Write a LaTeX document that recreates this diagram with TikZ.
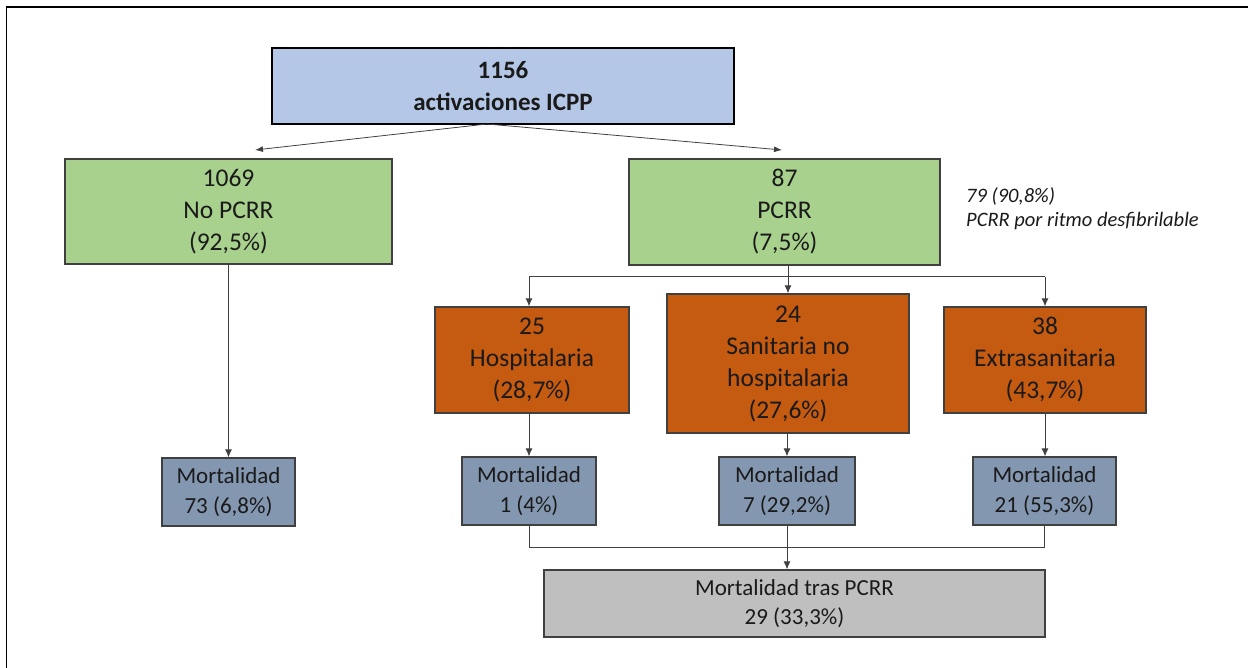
\documentclass[tikz,border=0pt]{standalone}
\usepackage{fontspec}
\setmainfont{Carlito}
\usetikzlibrary{arrows.meta}
\definecolor{cblue}{HTML}{B4C7E7}
\definecolor{cgreen}{HTML}{A9D18E}
\definecolor{corange}{HTML}{C55A11}
\definecolor{cslate}{HTML}{8497B0}
\definecolor{cgray}{HTML}{BFBFBF}
\definecolor{cline}{HTML}{404040}
\definecolor{ctext}{HTML}{1A1A1A}
\begin{document}
\begin{tikzpicture}[x=1pt,y=-1pt,
  box/.style={draw=cline,line width=1.2pt,rectangle,inner sep=0pt,align=center,text=ctext},
  bigtxt/.style={font=\fontsize{25.5}{32}\selectfont},
  midtxt/.style={font=\fontsize{23}{29.5}\selectfont},
  conn/.style={draw=cline,line width=1pt},
  arr/.style={conn,-{Latex[length=8pt,width=7pt]}},
  thinarr/.style={draw=cline,line width=0.8pt,-{Latex[length=8pt,width=6pt]}},
  note/.style={font=\fontsize{20.5}{24}\selectfont\itshape,text=ctext,inner sep=0pt,anchor=base west}
]
\useasboundingbox (0,0) rectangle (1248,668);
\draw[line width=1.5pt] (6.5,668) -- (6.5,7) -- (1248,7);

% top
\node[box,draw=black,line width=1.6pt,fill=cblue,minimum width=462pt,minimum height=76pt,
  font=\fontsize{25}{32}\selectfont\bfseries] (top) at (503,86) {1156\\activaciones ICPP};

% green
\node[box,bigtxt,fill=cgreen,minimum width=327pt,minimum height=105pt] (g1) at (228.5,211.5) {1069\\No PCRR\\(92,5\%)};
\node[box,bigtxt,fill=cgreen,minimum width=311pt,minimum height=106pt] (g2) at (784.5,212) {87\\PCRR\\(7,5\%)};

\node[note] (n1) at (966,203) {79 (90,8\%)};
\node[note] (n2) at (966,227) {PCRR por ritmo desfibrilable};

% orange
\node[box,bigtxt,fill=corange,minimum width=194pt,minimum height=106pt] (o1) at (532,360) {25\\Hospitalaria\\(28,7\%)};
\node[box,bigtxt,fill=corange,minimum width=242pt,minimum height=139pt] (o2) at (788,363.5) {24\\Sanitaria no\\hospitalaria\\(27,6\%)};
\node[box,bigtxt,fill=corange,minimum width=202pt,minimum height=106pt] (o3) at (1045,360) {38\\Extrasanitaria\\(43,7\%)};

% mortality
\node[box,midtxt,fill=cslate,minimum width=133pt,minimum height=68pt] (m0) at (228.5,492) {Mortalidad\\73 (6,8\%)};
\node[box,midtxt,fill=cslate,minimum width=134pt,minimum height=68pt] (m1) at (529,491) {Mortalidad\\1 (4\%)};
\node[box,midtxt,fill=cslate,minimum width=136pt,minimum height=68pt] (m2) at (787,491) {Mortalidad\\7 (29,2\%)};
\node[box,midtxt,fill=cslate,minimum width=143pt,minimum height=68pt] (m3) at (1044.5,491) {Mortalidad\\21 (55,3\%)};

% gray
\node[box,midtxt,fill=cgray,minimum width=501pt,minimum height=67pt] (gr) at (794.5,603.5) {Mortalidad tras PCRR\\29 (33,3\%)};

% connectors
\coordinate (split) at (487,124);
\coordinate (tl) at (255,150);
\coordinate (tr) at (782,150);
\draw[thinarr] (split) -- (tl);
\draw[thinarr] (split) -- (tr);

\draw[arr] (g1.south) -- (m0.north);

\coordinate (bus) at (788,277);
\draw[conn] (g2.south -| bus) -- (bus);
\draw[conn] (m1.north |- bus) -- (o3.north |- bus);
\draw[arr] (m1.north |- bus) -- (m1.north |- o1.north);
\draw[arr] (bus) -- (o2.north);
\draw[arr] (o3.north |- bus) -- (o3.north);

\draw[arr] (m1.north |- o1.south) -- (m1.north);
\draw[arr] (m2.north |- o2.south) -- (m2.north);
\draw[arr] (o3.south) -- (o3.south |- m3.north);

\coordinate (bus2) at (788,547);
\draw[conn] (m1.south) -- (m1.south |- bus2) -- (m3.south |- bus2) -- (m3.south);
\draw[arr] (m2.south) -- (m2.south |- gr.north);
\end{tikzpicture}
\end{document}
